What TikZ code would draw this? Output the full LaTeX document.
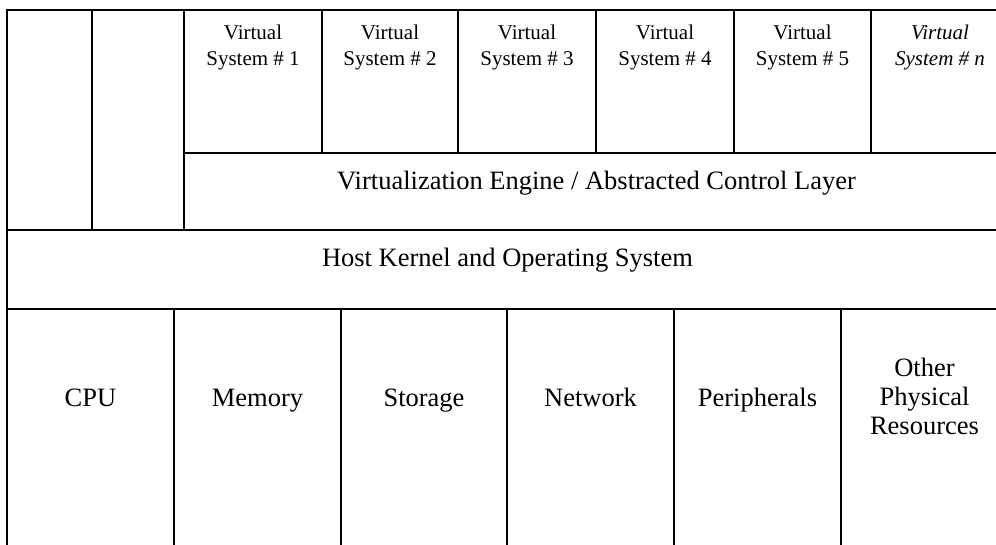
\documentclass[tikz,border=0pt]{standalone}
\usepackage{fontspec}
\setmainfont{Liberation Serif}
\begin{document}
\begin{tikzpicture}[x=1pt,y=-1pt,
  box/.style={draw=black,line width=1.7pt},
  big/.style={inner sep=0pt,font=\fontsize{26.5}{29}\selectfont,align=center},
  small/.style={inner sep=0pt,font=\fontsize{21}{25.7}\selectfont,align=center}]
\useasboundingbox (0,0) rectangle (996,544);
\clip (0,0) rectangle (996,544);
\fill[white] (0,0) rectangle (996,544);
% left columns
\draw[box] (7,10) rectangle (92,230);
\draw[box] (92,10) rectangle (184,230);
% virtual systems
\foreach \a/\b in {184/322,322/458,458/596,596/734,734/871,871/1009}
  \draw[box] (\a,10) rectangle (\b,153);
% virtualization engine
\draw[box] (184,153) rectangle (1009,230);
% host kernel
\draw[box] (7,230) rectangle (1008,309);
% hardware
\foreach \a/\b in {7/174,174/341,341/507,507/674,674/841,841/1008}
  \draw[box] (\a,309) rectangle (\b,560);
% labels
\node[small] (vs1) at (253,47.5) {Virtual\\System \# 1};
\node[small] (vs2) at (390,47.5) {Virtual\\System \# 2};
\node[small] (vs3) at (527,47.5) {Virtual\\System \# 3};
\node[small] (vs4) at (665,47.5) {Virtual\\System \# 4};
\node[small] (vs5) at (802.5,47.5) {Virtual\\System \# 5};
\node[small,font=\fontsize{21}{25.7}\selectfont\itshape] (vsn) at (940,47.5) {Virtual\\System \# \textit{n}};
\node[big,anchor=base] (ve) at (596.5,189) {Virtualization Engine / Abstracted Control Layer};
\node[big,anchor=base] (host) at (507.5,266.7) {Host Kernel and Operating System};
\node[big,anchor=base] (cpu) at (90.5,406) {CPU};
\node[big,anchor=base] (mem) at (257.5,406) {Memory};
\node[big,anchor=base] (sto) at (424,406) {Storage};
\node[big,anchor=base] (net) at (590.5,406) {Network};
\node[big,anchor=base] (per) at (757.5,406) {Peripherals};
\node[big] (oth) at (924.5,396.5) {Other\\Physical\\Resources};
\end{tikzpicture}
\end{document}
